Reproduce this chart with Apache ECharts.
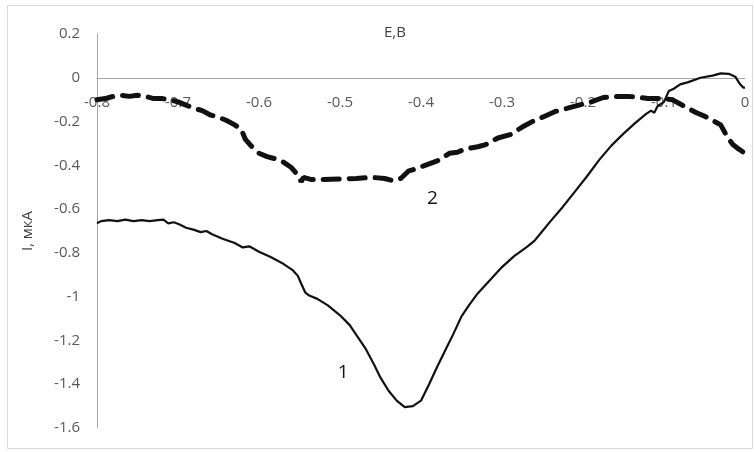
<!DOCTYPE html>
<html>
<head>
<meta charset="utf-8">
<script src="https://cdn.jsdelivr.net/npm/echarts@6/dist/echarts.min.js"></script>
<style>html,body{margin:0;padding:0;background:#fff}#c{width:754px;height:452px}</style>
</head>
<body>
<div id="c"></div>
<script>
// Curve 1 (solid)
const e1 = [-0.800,-0.795,-0.785,-0.775,-0.765,-0.755,-0.745,-0.735,-0.725,-0.718,-0.712,-0.705,-0.698,-0.690,-0.680,-0.672,-0.665,-0.658,-0.645,-0.630,-0.620,-0.612,-0.600,-0.585,-0.570,-0.558,-0.552,-0.548,-0.543,-0.538,-0.528,-0.515,-0.500,-0.488,-0.478,-0.468,-0.458,-0.450,-0.440,-0.430,-0.420,-0.410,-0.400,-0.390,-0.380,-0.370,-0.360,-0.350,-0.340,-0.330,-0.315,-0.300,-0.285,-0.270,-0.260,-0.250,-0.240,-0.225,-0.210,-0.195,-0.180,-0.165,-0.150,-0.135,-0.122,-0.116,-0.112,-0.108,-0.100,-0.094,-0.088,-0.080,-0.070,-0.055,-0.040,-0.030,-0.020,-0.012,-0.006,-0.002,0.000];
const i1 = [-0.665,-0.655,-0.650,-0.655,-0.648,-0.655,-0.650,-0.655,-0.650,-0.648,-0.665,-0.660,-0.670,-0.685,-0.695,-0.705,-0.700,-0.715,-0.735,-0.755,-0.775,-0.770,-0.795,-0.820,-0.850,-0.880,-0.905,-0.940,-0.980,-0.995,-1.010,-1.040,-1.085,-1.130,-1.185,-1.240,-1.310,-1.370,-1.430,-1.475,-1.505,-1.500,-1.475,-1.400,-1.320,-1.245,-1.170,-1.090,-1.035,-0.985,-0.925,-0.865,-0.815,-0.775,-0.745,-0.700,-0.655,-0.590,-0.520,-0.450,-0.375,-0.310,-0.255,-0.205,-0.165,-0.150,-0.160,-0.130,-0.110,-0.060,-0.050,-0.030,-0.020,0.000,0.010,0.020,0.018,0.005,-0.030,-0.045,-0.045];
// Curve 2 (dashed)
const e2 = [-0.800,-0.790,-0.780,-0.770,-0.760,-0.750,-0.740,-0.730,-0.720,-0.710,-0.700,-0.690,-0.680,-0.670,-0.660,-0.650,-0.640,-0.630,-0.622,-0.617,-0.610,-0.600,-0.590,-0.580,-0.570,-0.560,-0.552,-0.548,-0.545,-0.535,-0.520,-0.500,-0.480,-0.460,-0.445,-0.435,-0.425,-0.415,-0.405,-0.395,-0.380,-0.365,-0.355,-0.345,-0.330,-0.320,-0.305,-0.290,-0.275,-0.260,-0.250,-0.235,-0.220,-0.205,-0.190,-0.175,-0.160,-0.145,-0.130,-0.120,-0.105,-0.090,-0.080,-0.070,-0.060,-0.050,-0.040,-0.030,-0.022,-0.015,-0.008,0.000];
const i2 = [-0.100,-0.095,-0.085,-0.080,-0.085,-0.080,-0.085,-0.095,-0.095,-0.100,-0.110,-0.125,-0.140,-0.150,-0.170,-0.180,-0.195,-0.215,-0.235,-0.280,-0.310,-0.345,-0.360,-0.370,-0.385,-0.410,-0.445,-0.475,-0.455,-0.465,-0.465,-0.462,-0.460,-0.455,-0.460,-0.470,-0.460,-0.425,-0.415,-0.400,-0.380,-0.345,-0.340,-0.325,-0.315,-0.305,-0.275,-0.260,-0.225,-0.195,-0.180,-0.155,-0.140,-0.125,-0.110,-0.090,-0.085,-0.085,-0.090,-0.095,-0.095,-0.100,-0.120,-0.140,-0.160,-0.175,-0.195,-0.215,-0.270,-0.305,-0.325,-0.345];
// Curve labels
const labels = [{name:'1', coord:[-0.496,-1.345]}, {name:'2', coord:[-0.386,-0.55]}];
const xTitle = 'E,B';
const yTitle = 'I, мкА';

const FONT = 'Open Sans';
const GRID_TOP = 34, GRID_BOTTOM = 24, H = 452;
const yMin = -1.6, yMax = 0.2;
const plotH = H - GRID_TOP - GRID_BOTTOM;
// shift x axis from grid bottom up to the value 0 (same as onZero)
const zeroOffset = -plotH * (0 - yMin) / (yMax - yMin);

const chart = echarts.init(document.getElementById('c'), null, {renderer:'canvas'});
const zip = (a,b) => a.map((v,k)=>[v,b[k]]);
chart.setOption({
  animation:false,
  backgroundColor:'#fff',
  textStyle:{fontFamily:FONT},
  title:{text:xTitle, left:379, top:20, textStyle:{fontFamily:FONT, fontSize:15, fontWeight:'normal', color:'#404040'}},
  graphic:[{type:'rect', shape:{x:7.5,y:5.5,width:745,height:443}, style:{fill:'none', stroke:'#d9d9d9', lineWidth:1}, silent:true, z:-1}],
  grid:{left:97, right:9, top:GRID_TOP, bottom:GRID_BOTTOM},
  xAxis:{type:'value', min:-0.8, max:0, interval:0.1, position:'bottom', offset:zeroOffset,
    axisLine:{onZero:false, lineStyle:{color:'#a6a6a6', width:1}},
    axisTick:{show:false}, splitLine:{show:false},
    axisLabel:{margin:17, fontSize:15, color:'#595959', fontFamily:FONT}},
  yAxis:{type:'value', min:yMin, max:yMax, interval:0.2,
    name:yTitle, nameLocation:'middle', nameGap:62, nameRotate:90,
    nameTextStyle:{fontSize:15, color:'#404040', fontFamily:FONT},
    axisLine:{show:true, onZero:false, lineStyle:{color:'#a6a6a6', width:1}},
    axisTick:{show:false}, splitLine:{show:false},
    axisLabel:{margin:17, fontSize:15, color:'#595959', fontFamily:FONT}},
  series:[
    {type:'line', data:zip(e1,i1), showSymbol:false, smooth:false,
      lineStyle:{color:'#111', width:2.2}, z:3,
      markPoint:{symbol:'circle', symbolSize:0, data:labels.map(l=>({coord:l.coord, value:l.name})),
        label:{show:true, position:'inside', formatter:p=>p.value, fontSize:19, color:'#111', fontFamily:FONT}}},
    {type:'line', data:zip(e2,i2), showSymbol:false, smooth:false,
      lineStyle:{color:'#111', width:5, type:[16,10], cap:'round'}, z:2}
  ]
});
</script>
</body>
</html>
